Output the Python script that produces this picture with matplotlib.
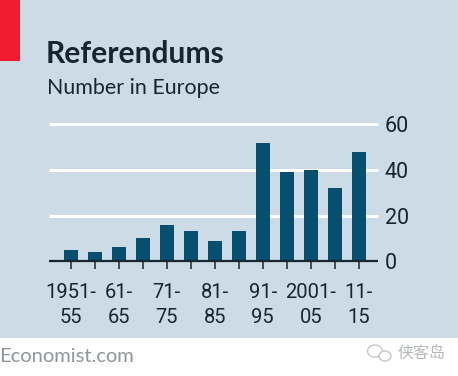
import matplotlib
matplotlib.use("Agg")
import matplotlib.pyplot as plt
from matplotlib.patches import Rectangle, Ellipse

W, H = 458, 376
values = [5, 4, 6, 10, 16, 13, 9, 13, 52, 39, 40, 32, 48]
tick_labels = ["1951-\n55", "", "61-\n65", "", "71-\n75", "", "81-\n85", "",
               "91-\n95", "", "2001-\n05", "", "11-\n15"]
y_ticks = [0, 20, 40, 60]
title = "Referendums"
subtitle = "Number in Europe"
source = "Economist.com"
watermark = "侠客岛"

BG = "#cddbe6"
BAR = "#04506e"
INK = "#17252f"
plt.rcParams['font.family'] = ['Lato', 'DejaVu Sans']

fig = plt.figure(figsize=(W / 100, H / 100), dpi=100, facecolor="white")

def P(x, y):
    return x / W, 1 - y / H

fig.add_artist(Rectangle(P(0, 338), 1, (338) / H, transform=fig.transFigure, fc=BG, ec="none", zorder=-5))
fig.add_artist(Rectangle(P(0, 61), 20 / W, 61 / H, transform=fig.transFigure, fc="#ee1c2e", ec="none", zorder=-4))

ax = fig.add_axes([49 / W, 1 - 261 / H, 329 / W, (261 - 124.5) / H])
ax.set_facecolor("none")
x = list(range(len(values)))
ax.bar(x, values, width=14 / 24, color=BAR, zorder=3)
ax.set_xlim((49 - 70.7) / 24, (378 - 70.7) / 24)
ax.set_ylim(0, 60)
for s in ax.spines.values():
    s.set_visible(False)
ax.spines['bottom'].set_visible(True)
ax.spines['bottom'].set_linewidth(1.6)
ax.spines['bottom'].set_color(INK)
ax.spines['bottom'].set_capstyle('butt')
ax.spines['bottom'].set_zorder(4)
for v in y_ticks[1:]:
    ax.axhline(v, color="white", lw=2.2, zorder=1, clip_on=False, solid_capstyle='butt')
ax.set_xticks(x)
ax.set_xticklabels(tick_labels, fontsize=14.5, color=INK, linespacing=1.36, family=['Roboto', 'DejaVu Sans'])
ax.tick_params(axis='x', length=6, width=1.1, color=INK, pad=10)
ax.yaxis.tick_right()
ax.set_yticks(y_ticks)
ax.set_yticklabels([str(v) for v in y_ticks], fontsize=15.5, color=INK, family=['Roboto', 'DejaVu Sans'])
ax.tick_params(axis='y', length=0, pad=5)

fig.text(*P(46, 54), title, fontsize=21.6, fontweight='bold', color=INK, va='center', ha='left')
fig.text(*P(47, 88), subtitle, fontsize=15.4, color=INK, va='center', ha='left')
fig.text(*P(-1, 356), source, fontsize=14.5, color="#8f969b", va='center', ha='left')
fig.text(*P(398, 353), watermark, fontsize=11.5, color="#b5b9bb", va='center', ha='left',
         family=['Noto Sans CJK SC', 'DejaVu Sans'])
fig.add_artist(Ellipse(P(375, 351), 15 / W, 12 / H, transform=fig.transFigure, fc="none", ec="#c4c8ca", lw=1))
fig.add_artist(Ellipse(P(385, 356), 12 / W, 10 / H, transform=fig.transFigure, fc="white", ec="#c4c8ca", lw=1))

fig.savefig("out.png", dpi=100, facecolor="white")
